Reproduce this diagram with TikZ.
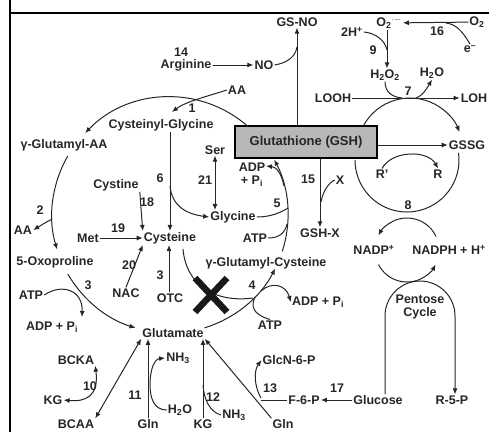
\documentclass[tikz,border=0pt]{standalone}
\usepackage{fontspec}
\setmainfont{Liberation Sans}
\usetikzlibrary{arrows.meta,calc}

\begin{document}
\begin{tikzpicture}[
  x=1pt, y=-1pt,
  font=\fontsize{12.5}{13}\selectfont\bfseries,
  txt/.style={inner sep=1pt, text=black!85, align=center},
  lnk/.style={line width=1pt, black!85},
  arr/.style={lnk, -{Latex[length=6pt,width=5pt]}},
  darr/.style={lnk, {Latex[length=6pt,width=5pt]}-{Latex[length=6pt,width=5pt]}},
  gshbox/.style={draw, line width=1.6pt, fill=black!28, minimum width=142pt,
                 minimum height=32pt, inner sep=2pt}
]
\useasboundingbox (0,0) rectangle (489,432);
\draw[line width=1.3pt] (10,0) -- (10,432) (10,13) -- (489,13);

\coordinate (cyc) at (170,215);
\coordinate (redox) at (410,151);
\coordinate (red8) at (407,160);
\coordinate (nadc) at (407,250);

\node[txt] (gsno) at (297,22) {GS-NO};
\node[txt] (twoh) at (352,32) {2H\textsuperscript{+}};
\node[txt] (sup) at (389,23) {O\textsubscript{2}\textsuperscript{$\cdot-$}};
\node[txt] (otwo) at (477,22) {O\textsubscript{2}};
\node[txt] (n16) at (437,31) {16};
\node[txt] (elec) at (470,49) {e\textsuperscript{--}};
\node[txt] (n9) at (373,50) {9};
\node[txt] (hoo) at (385,75) {H\textsubscript{2}O\textsubscript{2}};
\node[txt] (hho) at (432,73) {H\textsubscript{2}O};
\node[txt] (n14) at (181,52) {14};
\node[txt] (arg) at (186,65) {Arginine};
\node[txt] (no) at (264,65) {NO};
\node[txt] (aa1) at (237,90) {AA};
\node[txt] (n1) at (192,108) {1};
\node[txt] (cysgly) at (161,125) {Cysteinyl-Glycine};
\node[txt] (looh) at (333,98) {LOOH};
\node[txt] (loh) at (474,98) {LOH};
\node[txt] (n7) at (408,91) {7};
\node[gshbox, txt, font=\fontsize{13}{14}\selectfont\bfseries] (gsh) at (306,142) {Glutathione (GSH)};
\node[txt] (gssg) at (467,145) {GSSG};
\node[txt] (rp) at (382,174) {R'};
\node[txt] (rr) at (438,174) {R};
\node[txt] (glaa) at (64,145) {γ-Glutamyl-AA};
\node[txt] (ser) at (215,150) {Ser};
\node[txt] (n21) at (205,180) {21};
\node[txt] (adp5) at (252,175) {ADP\\+ P\textsubscript{i}};
\node[txt] (n15) at (308,179) {15};
\node[txt] (xx) at (340,180) {X};
\node[txt] (n6) at (160,178) {6};
\node[txt] (cystine) at (116,185) {Cystine};
\node[txt] (n18) at (147,202) {18};
\node[txt] (n2) at (40,210) {2};
\node[txt] (n5) at (277,203) {5};
\node[txt] (n8) at (408,205) {8};
\node[txt] (gly) at (233,217) {Glycine};
\node[txt] (aa2) at (23,230) {AA};
\node[txt] (n19) at (118,228) {19};
\node[txt] (gshx) at (320,233) {GSH-X};
\node[txt] (met) at (88,238) {Met};
\node[txt] (cys) at (170,238) {Cysteine};
\node[txt] (atp5) at (255,238) {ATP};
\node[txt] (nadp) at (374,250) {NADP\textsuperscript{+}};
\node[txt] (nadph) at (449,250) {NADPH + H\textsuperscript{+}};
\node[txt] (oxo) at (55,262) {5-Oxoproline};
\node[txt] (glucys) at (266,263) {γ-Glutamyl-Cysteine};
\node[txt] (n20) at (129,265) {20};
\node[txt] (n3b) at (160,275) {3};
\node[txt] (n3a) at (88,285) {3};
\node[txt] (n4) at (252,285) {4};
\node[txt] (atp3) at (31,295) {ATP};
\node[txt] (nac) at (126,293) {NAC};
\node[txt] (otc) at (170,298) {OTC};
\node[txt] (adp4) at (318,302) {ADP + P\textsubscript{i}};
\node[txt] (pent) at (420,307) {Pentose\\Cycle};
\node[txt] (atp4) at (270,325) {ATP};
\node[txt] (adp3) at (52,327) {ADP + P\textsubscript{i}};
\node[txt] (glu) at (173,333) {Glutamate};
\node[txt] (bcka) at (76,360) {BCKA};
\node[txt] (nh11) at (178,358) {NH\textsubscript{3}};
\node[txt] (glcn) at (289,360) {GlcN-6-P};
\node[txt] (n10) at (90,386) {10};
\node[txt] (n11) at (135,395) {11};
\node[txt] (n12) at (213,397) {12};
\node[txt] (n13) at (270,388) {13};
\node[txt] (n17) at (337,388) {17};
\node[txt] (kg1) at (53,400) {KG};
\node[txt] (fsp) at (304,400) {F-6-P};
\node[txt] (glc) at (378,400) {Glucose};
\node[txt] (rfp) at (452,400) {R-5-P};
\node[txt] (hho11) at (180,410) {H\textsubscript{2}O};
\node[txt] (nh12) at (234,415) {NH\textsubscript{3}};
\node[txt] (bcaa) at (76,424) {BCAA};
\node[txt] (gln1) at (148,424) {Gln};
\node[txt] (kg2) at (203,424) {KG};
\node[txt] (gln2) at (283,424) {Gln};

\foreach \a/\b in {arg/no, met/cys, otwo/sup, looh/loh, glc/fsp}
  \draw[arr] (\a) -- (\b);
\draw[arr] (gsh.north -| gsno) -- (gsno);
\draw[lnk] (no.east) .. controls (286,63) and (295,58) .. (297,47);
\draw[lnk] (elec.north) .. controls (462,30) and (455,24) .. (446,23);
\draw[arr] (sup.south -| 387,0) -- (hoo.north -| 387,0);
\draw[lnk] (twoh.east) .. controls (375,33) and (385,40) .. (387,50);
\draw[lnk] (hoo.south) .. controls (385,92) and (392,97) .. (402,98);
\draw[arr] (416,98) .. controls (422,96) and (426,90) .. (hho.south);
\draw[arr] (gsh.east |- gssg) -- (gssg);
\draw[arr] (rp.north) .. controls (392,150) and (428,150) .. (rr.north);
\draw[arr] ($(redox)+(-152:53)$) arc[start angle=-152, end angle=-21, radius=53];
\draw[lnk] ($(red8)+(-8:52)$) arc[start angle=-8, end angle=180, radius=52];
\draw[arr] ($(nadc)+(-25:32)$) arc[start angle=-25, end angle=-153, radius=32];
\draw[arr] ($(nadc)+(153:32)$) arc[start angle=153, end angle=27, radius=32];
\draw[arr] (glc.north -| 385,0) -- (385,316) arc[start angle=180, end angle=360, radius=35]
  -- (rfp.north -| 455,0);
\draw[arr] (gsh.south -| gshx) -- (gshx);
\draw[lnk] (xx.west) .. controls (330,182) and (323,190) .. (321,202);

\draw[arr] ($(cyc)+(-48.5:118)$) arc[start angle=-48.5, end angle=-136, radius=118];
\draw[arr] ($(cyc)+(-150:118)$) arc[start angle=-150, end angle=-197, radius=118];
\draw[arr] ($(cyc)+(150:118)$) arc[start angle=150, end angle=107, radius=118];
\draw[arr] ($(cyc)+(73:118)$) arc[start angle=73, end angle=27, radius=118];
\draw[arr] ($(cyc)+(18:118)$) arc[start angle=18, end angle=-28, radius=118];

\draw[arr] (aa1.west) .. controls (205,97) and (185,102) .. (172,112);
\draw[arr] ($(cyc)+(178:118)$) .. controls (46,222) and (40,226) .. (aa2.east);
\draw[arr] (atp3.east) .. controls (62,283) and (83,290) .. (82,317);
\draw[arr] (cysgly.south -| cys) -- (cys.north);
\draw[arr] (170,186) .. controls (172,206) and (186,214) .. (gly.west);
\draw[darr] (ser.south) -- (gly.north -| ser);
\draw[arr] (cystine.south east) -- (cys.north west);
\draw[arr] (nac.north) -- (cys.south west);
\draw[arr] (otc.north -| 169,0) -- (cys.south -| 169,0);
\draw[lnk] (gly.east) .. controls (270,217) and (280,213) .. (288,208);
\draw[lnk] (atp5.east) .. controls (279,238) and (285,233) .. (287,224);
\draw[arr] (284,186) .. controls (281,172) and (276,167) .. (266,166);
\draw[lnk] (183,249) .. controls (186,285) and (215,303) .. (253,298);
\draw[lnk] (atp4.north) .. controls (252,314) and (251,306) .. (255,297);
\draw[arr] (261,291) .. controls (272,281) and (286,285) .. (adp4.west);
\draw[line width=6.5pt, black!90] (195,278) -- (227,312) (227,278) -- (195,312);

\draw[darr] (bcaa.north east) -- (glu.south west);
\draw[darr] (kg1.east) .. controls (86,402) and (99,396) .. (bcka.south east);
\draw[arr] (gln1.north) -- (glu.south -| gln1);
\draw[arr] (hho11.west) .. controls (154,410) and (150,398) .. (150,385)
  .. controls (150,368) and (155,359) .. (nh11.west);
\draw[arr] (kg2.north) -- (glu.south -| kg2);
\draw[lnk] (nh12.west) .. controls (210,412) and (204,400) .. (203,385);
\draw[arr] (gln2.north west) -- (glu.south east);
\draw[lnk] (fsp.west) -- (261,400);
\draw[arr] (261,398) .. controls (255,388) and (253,372) .. (glcn.west);
\end{tikzpicture}
\end{document}
